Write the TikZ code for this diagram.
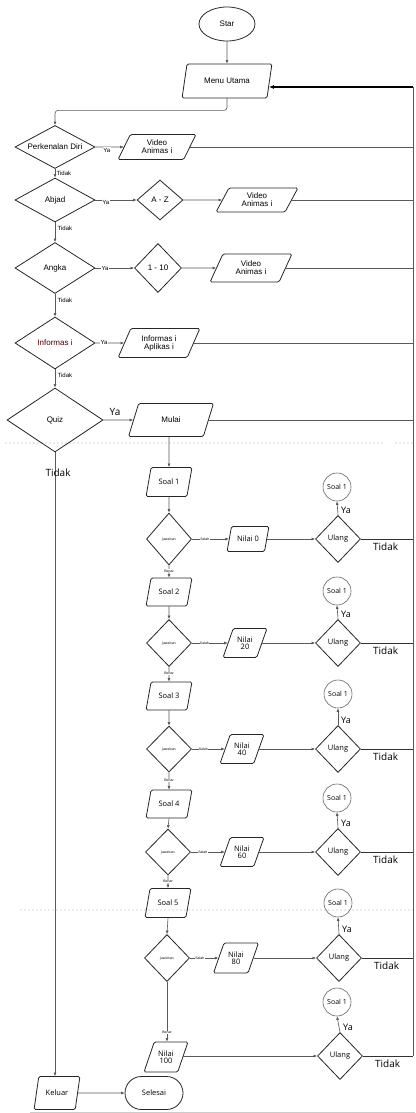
\documentclass[tikz,border=0pt]{standalone}
\usepackage{fontspec}
\setmainfont{Liberation Sans}
\newfontfamily\osans{Open Sans}
\usetikzlibrary{shapes.geometric,shapes.misc,arrows.meta,calc}
\newcommand\fsz[1]{\fontsize{#1}{#1}\selectfont}
\begin{document}
\begin{tikzpicture}[x=1pt,y=-1pt,
  outline/.style={draw=black!85, line width=0.8pt, inner sep=0pt, align=center, font=\fsz{8}},
  para/.style={outline, trapezium, trapezium left angle=63, trapezium right angle=117, trapezium stretches=true, rounded corners=1.5pt},
  dia/.style={draw=black!85, line width=0.8pt, inner sep=0pt, diamond},
  dtext/.style={label={[font=\fsz{8}, inner sep=0pt, align=center]center:#1}},
  qtext/.style={label={[font=\osans\fsz{7.5}, inner sep=0pt]center:#1}},
  jtext/.style={label={[font=\osans\fsz{3.5}, inner sep=0pt]center:#1}},
  qpara/.style={para, font=\osans\fsz{7.5}, minimum width=46, minimum height=29},
  qdia/.style={dia, minimum width=45, minimum height=50, jtext=Jawaban},
  udia/.style={dia, minimum width=45, minimum height=47, qtext=Ulang},
  soalc/.style={circle, draw=black!60, line width=0.6pt, minimum size=28, inner sep=0pt, font=\osans\fsz{7}},
  conn/.style={draw=black!65, line width=0.6pt, -{Latex[length=3.5pt,width=3pt]}},
  plain/.style={draw=black!65, line width=0.6pt},
  small/.style={font=\fsz{6}, inner sep=0.5pt},
  tinyl/.style={font=\fsz{3.5}, inner sep=0.3pt, fill=white},
  bigl/.style={font=\osans\fsz{10}, inner sep=0pt},
  artifact/.style={draw=black!8, line width=2pt, dotted}
]
\useasboundingbox (0,0) rectangle (415,1113);
\fill[white] (0,0) rectangle (415,1113);

% faint page-break artifacts
\coordinate (pb1a) at (5,443);   \coordinate (pb1b) at (383,443);
\coordinate (pb1c) at (395,443); \coordinate (pb1d) at (415,443);
\coordinate (pb2a) at (20,910);  \coordinate (pb2b) at (415,910);
\coordinate (pb3a) at (30,1112); \coordinate (pb3b) at (415,1112);
\draw[artifact] (pb1a) -- (pb1b);
\draw[artifact] (pb1c) -- (pb1d);
\draw[artifact] (pb2a) -- (pb2b);
\draw[draw=black!20, line width=1pt] (pb3a) -- (pb3b);

% ---------- top menu ----------
\node[outline, ellipse, minimum width=56, minimum height=34] (star) at (227,24) {Star};
\node[para, minimum width=90, minimum height=34] (menu) at (227,81) {Menu Utama};

\node[dia, minimum width=80, minimum height=43, label={[font=\fsz{8}, inner sep=0pt]center:Perkenalan Diri}] (pd) at (55,147) {};
\node[para, minimum width=78, minimum height=25] (va1) at (157,147) {Video\\Animas i};

\node[dia, minimum width=80, minimum height=44, dtext=Abjad] (abjad) at (55,200) {};
\node[dia, minimum width=46, minimum height=40, dtext={A - Z}] (az) at (160,200) {};
\node[para, minimum width=82, minimum height=24] (va2) at (257,200) {Video\\Animas i};

\node[dia, minimum width=80, minimum height=51, dtext=Angka] (angka) at (55,268) {};
\node[dia, minimum width=47, minimum height=49, dtext={1 - 10}] (d110) at (158,268) {};
\node[para, minimum width=82, minimum height=28] (va3) at (251,268) {Video\\Animas i};

\node[dia, minimum width=80, minimum height=52, label={[font=\fsz{8}, inner sep=0pt, text=red!30!black]center:Informas i}] (info) at (55,343) {};
\node[para, minimum width=82, minimum height=29] (ia) at (159,343) {Informas i\\Aplikas i};

\node[dia, minimum width=96, minimum height=64, dtext=Quiz] (quiz) at (55,420) {};
\node[para, minimum width=85, minimum height=33] (mulai) at (171,420) {Mulai};

% right return line
\coordinate (rtop) at (413,87);
\coordinate (mE) at ($(menu.bottom right corner)!0.32!(menu.top right corner)$);
\draw[conn] (star.south) -- (menu.north);
\draw[conn, rounded corners=3pt] (menu.south) -- ++(0,12) -| (pd.north);
\draw[draw=black, line width=1.3pt, -{Latex[length=5pt,width=4pt]}] (rtop) -- (rtop -| mE);

\draw[conn] (pd.east) -- (va1.west) node[pos=0.4, small, fill=white, yshift=-3]{Ya};
\draw[conn] (pd.south) -- (abjad.north);
\node[small, anchor=west] at ($(pd.south)+(1,4)$) {Tidak};
\draw[plain] (va1.east) -- (va1.east -| rtop);

\draw[conn] (abjad.east) -- (az.west) node[pos=0.25, small, fill=white, yshift=-2]{Ya};
\draw[conn] (az.east) -- (va2.west);
\draw[plain] (va2.east) -- (va2.east -| rtop);
\draw[conn] (abjad.south) -- (angka.north);
\node[small, anchor=west] at ($(abjad.south)+(2,6)$) {Tidak};

\draw[conn] (angka.east) -- (d110.west) node[pos=0.25, small, fill=white]{Ya};
\draw[conn] (d110.east) -- (va3.west);
\draw[plain] (va3.east) -- (va3.east -| rtop);
\draw[conn] (angka.south) -- (info.north);
\node[small, anchor=west] at ($(angka.south)+(2,6)$) {Tidak};

\draw[conn] (info.east) -- (ia.west) node[pos=0.3, small, fill=white, yshift=1]{Ya};
\draw[plain] (ia.east) -- (ia.east -| rtop);
\draw[conn] (info.south) -- (quiz.north);
\node[small, anchor=west] at ($(info.south)+(2,6)$) {Tidak};

\draw[conn] (quiz.east) -- (mulai.west);
\node[bigl] at (115,412) {Ya};
\draw[plain] (mulai.east) -- (mulai.east -| rtop);

% ---------- quiz section ----------
\node[qpara] (s1) at (169,482) {Soal 1};
\node[qdia, minimum height=52] (j1) at (169,539) {};
\node[qpara, minimum width=42, minimum height=25] (n1) at (248,539) {Nilai 0};
\node[udia] (u1) at (338,539) {};
\node[soalc] (c1) at (337,487) {Soal 1};

\node[qpara, minimum height=28] (s2) at (169,592) {Soal 2};
\node[qdia, minimum height=47] (j2) at (169,643) {};
\node[qpara, minimum width=44] (n2) at (245,643) {Nilai\\20};
\node[udia] (u2) at (338,643) {};
\node[soalc] (c2) at (337,591) {Soal 1};

\node[qpara, minimum height=28] (s3) at (169,696) {Soal 3};
\node[qdia, minimum height=46] (j3) at (169,749) {};
\node[qpara, minimum width=44] (n3) at (242,749) {Nilai\\40};
\node[udia] (u3) at (338,749) {};
\node[soalc] (c3) at (338,694) {Soal 1};

\node[qpara, minimum height=28] (s4) at (169,804) {Soal 4};
\node[qdia, minimum height=46] (j4) at (168,852) {};
\node[qpara, minimum width=44] (n4) at (242,852) {Nilai\\60};
\node[udia] (u4) at (338,852) {};
\node[soalc] (c4) at (337,798) {Soal 1};

\node[qpara, minimum height=29] (s5) at (168,903) {Soal 5};
\node[qdia, minimum height=47] (j5) at (167,958) {};
\node[qpara, minimum width=45, minimum height=30] (n5) at (236,958) {Nilai\\80};
\node[udia] (u5) at (339,958) {};
\node[soalc] (c5) at (338,903) {Soal 1};

\node[qpara, minimum width=44, minimum height=30] (n6) at (166,1057) {Nilai\\100};
\node[udia] (u6) at (340,1056) {};
\node[soalc] (c6) at (337,1002) {Soal 1};

\node[para, font=\osans\fsz{7.5}, minimum width=46, minimum height=33] (keluar) at (57,1093) {Keluar};
\node[outline, rounded rectangle, font=\osans\fsz{7.5}, minimum width=58, minimum height=33] (selesai) at (154,1093) {Selesai};

\draw[conn] (mulai.south -| s1) -- (s1.north);
\draw[conn] (s1.south) -- (j1.north);
\draw[conn] (j1.south) -- (s2.north) node[pos=0.45, tinyl]{Benar};
\draw[conn] (s2.south) -- (j2.north);
\draw[conn] (j2.south) -- (s3.north) node[pos=0.45, tinyl]{Benar};
\draw[conn] (s3.south) -- (j3.north);
\draw[conn] (j3.south) -- (s4.north) node[pos=0.45, tinyl]{Benar};
\draw[conn] (s4.south) -- (j4.north);
\draw[conn] (j4.south) -- (s5.north) node[pos=0.45, tinyl]{Benar};
\draw[conn] (s5.south) -- (j5.north);
\draw[conn] (j5.south) -- (j5.south |- n6.north) node[pos=0.85, tinyl]{Benar};

\foreach \i in {1,...,5}{
  \draw[conn] (j\i.east) -- (n\i.west |- j\i.east) node[pos=0.35, tinyl]{Salah};
}
\foreach \i in {1,...,6}{
  \draw[conn] (n\i.east |- u\i.west) -- (u\i.west);
  \draw[conn] (u\i.north) -- (c\i.south);
  \node[bigl, anchor=west, font=\osans\fsz{9}] at ($(u\i.north)+(3,-5)$) {Ya};
  \draw[draw=black!80, line width=0.7pt] (u\i.east) -- (u\i.east -| rtop);
  \node[bigl, anchor=west] at ($(u\i.east)+(12,8)$) {Tidak};
}
\coordinate (rbot) at (u6.east -| rtop);
\draw[plain] (rtop) -- (rbot);

\draw[conn] (quiz.south) -- (quiz.south |- keluar.north);
\node[bigl] at (58,473) {Tidak};
\draw[conn] (keluar.east) -- (selesai.west);
\end{tikzpicture}
\end{document}
